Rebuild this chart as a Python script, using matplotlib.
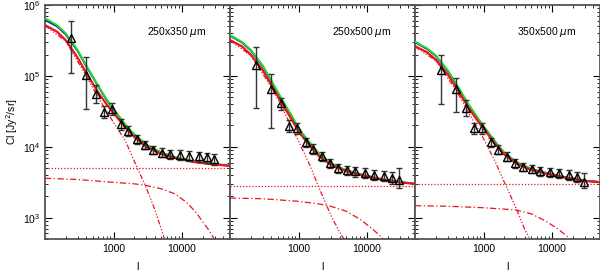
import numpy as np
import matplotlib
matplotlib.use("Agg")
import matplotlib.pyplot as plt

plt.rcParams['font.family'] = ['Liberation Sans', 'DejaVu Sans']

# ---------------- data ----------------
panel_labels = ["250x350 $\\mu$m", "250x500 $\\mu$m", "350x500 $\\mu$m"]

ell_data = [240, 390, 560, 730, 950, 1290, 1630, 2200, 2880, 3800, 5100, 6700,
            9300, 12600, 17700, 23200, 29500]

cl_1 = [343000, 103000, 55000, 31400, 33900, 21000, 16800, 12800, 10700, 9100,
        8300, 7900, 7700, 7450, 7300, 7100, 6800]
hi_1 = [600000, 185000, 74000, 37800, 41200, 24500, 19500, 14700, 12200, 10400,
        9500, 9100, 8900, 8700, 8500, 8300, 8000]
lo_1 = [110000, 34000, 41000, 25400, 28200, 17500, 14100, 10900, 9200, 7800,
        7100, 6700, 6500, 6200, 6100, 5900, 5600]

cl_2 = [143000, 65000, 41000, 19400, 18300, 11500, 9400, 7300, 5880, 5000,
        4650, 4480, 4240, 4030, 3900, 3630, 3430]
hi_2 = [258000, 107000, 48500, 23500, 22000, 13500, 11000, 8500, 6800, 5800,
        5400, 5200, 4950, 4750, 4600, 4350, 5000]
lo_2 = [35000, 18600, 33000, 16000, 15000, 9800, 8000, 6200, 5000, 4300,
        4000, 3800, 3600, 3400, 3250, 3000, 2630]

cl_3 = [122000, 65000, 35000, 18300, 18200, 11500, 9100, 7200, 5900, 5250,
        4900, 4480, 4350, 4240, 4030, 3800, 3230]
hi_3 = [198000, 93000, 45700, 22000, 21500, 13500, 10600, 8400, 6800, 6000,
        5600, 5200, 5000, 4900, 4700, 4450, 4260]
lo_3 = [40000, 30500, 27000, 15000, 15000, 9800, 7800, 6200, 5100, 4550,
        4250, 3850, 3700, 3600, 3450, 3200, 2640]

# model curves
ell_model = [100, 150, 200, 300, 400, 600, 800, 1000, 1500, 2000, 3000, 5000,
             8000, 15000, 30000, 50000]
red_1 = [520000, 420000, 320000, 180000, 110000, 58000, 39000, 30000, 18500,
         13800, 10000, 7900, 6900, 6100, 5600, 5400]
green_1 = [650000, 520000, 400000, 230000, 140000, 72000, 46000, 34000, 20500,
           15000, 10800, 8300, 7100, 6200, 5700, 5450]
blue_1 = [615000, 500000, 385000, 225000, 137000, 71000, 45000, 33500, 20000,
          14800, 10600, 8200, 7050, 6150, 5650, 5420]

red_2 = [321000, 260000, 200000, 120000, 75000, 38000, 24000, 16400, 10000,
         7300, 5500, 4500, 4000, 3500, 3150, 3000]
green_2 = [378000, 300000, 235000, 140000, 86000, 43000, 27000, 18200, 11000,
           7900, 5800, 4650, 4100, 3550, 3180, 3020]
blue_2 = [370000, 295000, 230000, 137000, 84000, 42000, 26500, 17900, 10800,
          7800, 5750, 4620, 4080, 3540, 3170, 3010]

red_3 = [263000, 215000, 170000, 105000, 68000, 36000, 24000, 18000, 10800,
         7800, 5800, 4700, 4200, 3700, 3300, 3160]
green_3 = [304000, 245000, 195000, 120000, 77000, 40000, 26500, 19500, 11600,
           8300, 6100, 4850, 4300, 3750, 3330, 3180]
blue_3 = [298000, 240000, 192000, 118000, 76000, 39500, 26200, 19300, 11500,
          8200, 6050, 4830, 4290, 3740, 3320, 3170]

ell_2h = [100, 200, 400, 600, 1000, 1500, 2000, 3000, 4000, 6000]
twoh_1 = [510000, 310000, 100000, 49000, 22000, 12000, 6300, 2650, 1300, 400]
twoh_2 = [316000, 195000, 70000, 33000, 12000, 5200, 2600, 1050, 620, 330]
twoh_3 = [258000, 165000, 62000, 31000, 13000, 6000, 3200, 1350, 680, 330]

ell_1h = [100, 300, 1000, 2000, 3000, 5000, 8000, 12000, 16000, 25000, 35000, 50000]
oneh_1 = [3600, 3450, 3150, 3000, 2850, 2550, 2150, 1600, 1180, 650, 380, 220]
oneh_2 = [1890, 1850, 1700, 1560, 1440, 1230, 940, 690, 540, 330, 220, 150]
oneh_3 = [1475, 1450, 1380, 1320, 1280, 1130, 900, 700, 560, 370, 260, 170]

shot = [5050, 2800, 3010]

panels = [
    (cl_1, lo_1, hi_1, red_1, green_1, blue_1, twoh_1, oneh_1),
    (cl_2, lo_2, hi_2, red_2, green_2, blue_2, twoh_2, oneh_2),
    (cl_3, lo_3, hi_3, red_3, green_3, blue_3, twoh_3, oneh_3),
]

# ---------------- figure ----------------
fig = plt.figure(figsize=(6.0, 2.77), dpi=100)
left0 = 45 / 600
pw = 185 / 600
bottom = 1 - 239 / 277
height = 234 / 277

red = '#e8151f'
for i, (cl, lo, hi, rd, gr, bl, th, oh) in enumerate(panels):
    ax = fig.add_axes([left0 + i * pw, bottom, pw, height])
    ax.set_xscale('log')
    ax.set_yscale('log')
    ax.set_xlim(100, 50000)
    ax.set_ylim(500, 1e6)

    ax.plot(ell_model, bl, color='#1a1acc', lw=1.4, zorder=3)
    ax.plot(ell_model, gr, color='#22dd22', lw=1.4, zorder=3)
    ax.plot(ell_model, rd, color=red, lw=1.6, zorder=4)
    ax.plot(ell_2h, th, color=red, lw=0.9, ls=(0, (4, 1.5, 1, 1.5, 1, 1.5, 1, 1.5)), zorder=2)
    ax.plot(ell_1h, oh, color=red, lw=0.9, ls=(0, (5, 2, 1, 2)), zorder=2)
    ax.axhline(shot[i], color=red, lw=0.9, ls=(0, (1, 1.5)), zorder=2)

    cl_a = np.array(cl)
    yerr = [cl_a - np.array(lo), np.array(hi) - cl_a]
    ax.errorbar(ell_data, cl, yerr=yerr, fmt='none', ecolor='#333333',
                elinewidth=1.0, capsize=2.5, capthick=1.0, zorder=5)
    ax.plot(ell_data, cl, ls='none', marker='^', ms=5.5, mfc='none',
            mec='black', mew=1.0, zorder=6)

    ax.text(0.55, 0.885, panel_labels[i], transform=ax.transAxes,
            fontsize=7.5, ha='left', va='center')

    ax.set_xticks([1000, 10000])
    ax.set_xticklabels(['1000', '10000'])
    ax.tick_params(which='both', direction='in', top=True, right=True,
                   labelsize=7.5, color='black')
    ax.tick_params(which='major', length=5, width=0.8)
    ax.tick_params(which='minor', length=2.5, width=0.6)
    ax.set_xlabel('l', fontsize=7.5, labelpad=6)
    if i == 0:
        ax.set_ylabel('Cl [Jy$^2$/sr]', fontsize=7.5, labelpad=2)
    else:
        ax.set_yticklabels([])
        ax.tick_params(axis='y', which='both', labelleft=False)
    for s in ax.spines.values():
        s.set_linewidth(1.3)
        s.set_color('#555555')

fig.savefig('out.png', dpi=100)
